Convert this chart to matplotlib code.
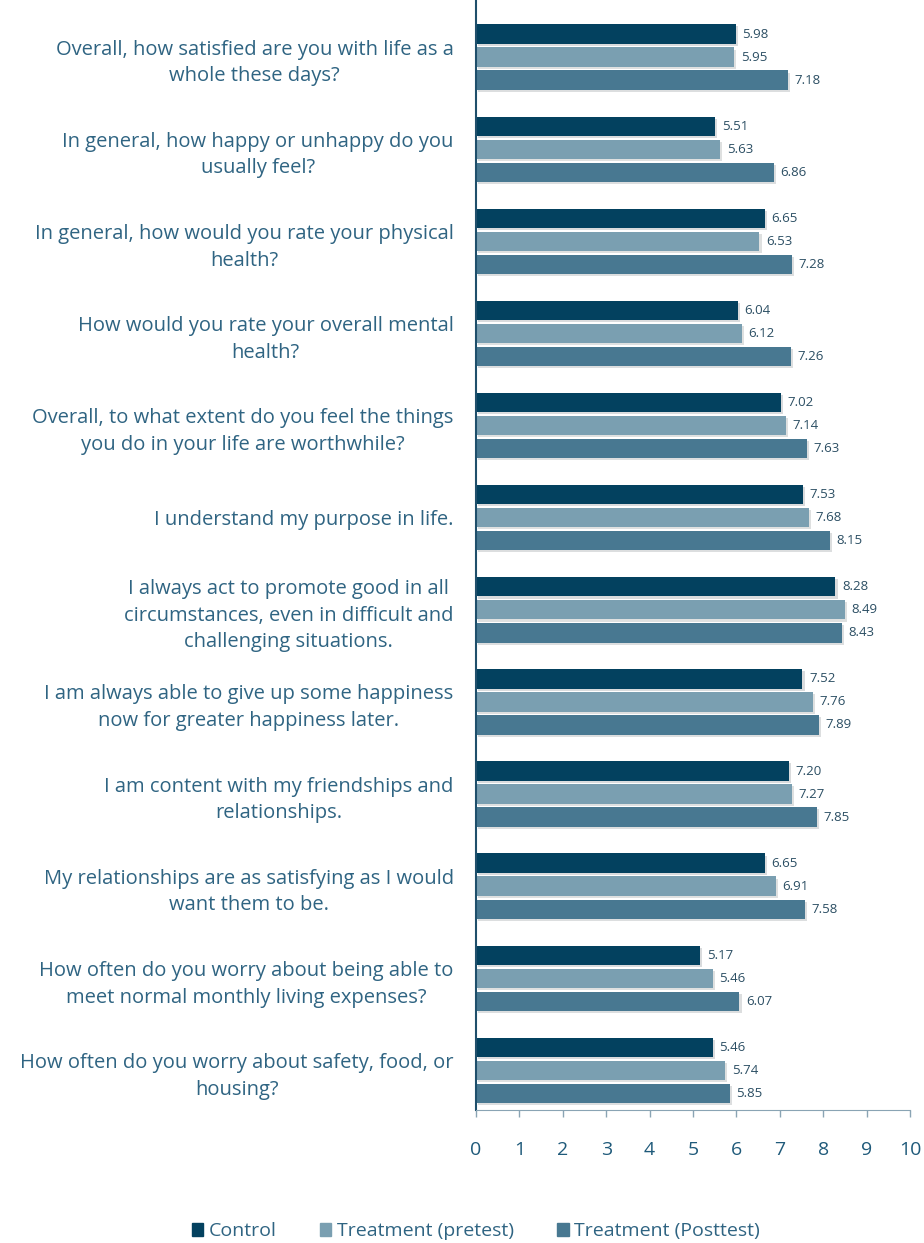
import matplotlib.pyplot as plt
import matplotlib.patheffects as pe
from matplotlib.patches import Patch
import numpy as np

questions = [
    "Overall, how satisfied are you with life as a\nwhole these days?",
    "In general, how happy or unhappy do you\nusually feel?",
    "In general, how would you rate your physical\nhealth?",
    "How would you rate your overall mental\nhealth?",
    "Overall, to what extent do you feel the things\nyou do in your life are worthwhile?",
    "I understand my purpose in life.",
    "I always act to promote good in all\ncircumstances, even in difficult and\nchallenging situations.",
    "I am always able to give up some happiness\nnow for greater happiness later.",
    "I am content with my friendships and\nrelationships.",
    "My relationships are as satisfying as I would\nwant them to be.",
    "How often do you worry about being able to\nmeet normal monthly living expenses?",
    "How often do you worry about safety, food, or\nhousing?",
]
control = [5.98, 5.51, 6.65, 6.04, 7.02, 7.53, 8.28, 7.52, 7.20, 6.65, 5.17, 5.46]
pretest = [5.95, 5.63, 6.53, 6.12, 7.14, 7.68, 8.49, 7.76, 7.27, 6.91, 5.46, 5.74]
posttest = [7.18, 6.86, 7.28, 7.26, 7.63, 8.15, 8.43, 7.89, 7.85, 7.58, 6.07, 5.85]

series = [
    ("Control", control, "#03415f"),
    ("Treatment (pretest)", pretest, "#7a9fb1"),
    ("Treatment (Posttest)", posttest, "#487891"),
]

plt.rcParams['font.family'] = ['Open Sans', 'DejaVu Sans']
txt = "#2f6482"

fig = plt.figure(figsize=(9.24, 12.43), dpi=100)
ax = fig.add_axes([0.515, 0.107, 0.47, 0.893])

y = np.arange(len(questions))
offs = [-0.25, 0.0, 0.25]
# soft drop shadow under every bar
shadow = [pe.SimplePatchShadow(offset=(1.5, -1.5), alpha=0.15), pe.Normal()]
for (name, vals, col), off in zip(series, offs):
    bars = ax.barh(y + off, vals, height=0.21, color=col)
    for b in bars:
        b.set_path_effects(shadow)
    for yy, v in zip(y + off, vals):
        ax.text(v + 0.15, yy, f"{v:.2f}", va="center", ha="left",
                fontsize=9.5, color="#2b4e63")

ax.set_ylim(11.43, -0.62)
ax.set_xlim(0, 10)
ax.set_yticks(y)
ax.set_yticklabels(questions, fontsize=14.5, color=txt,
                   multialignment="center", linespacing=1.45)
ax.tick_params(axis="y", length=0, pad=16)
ax.set_xticks(range(0, 11))
ax.tick_params(axis="x", colors="#8aa4b4", length=5, width=1, pad=17,
               labelsize=14, labelcolor="#1f5a7a")

for s in ["top", "right"]:
    ax.spines[s].set_visible(False)
ax.spines["left"].set_color("#1f4f6b")
ax.spines["left"].set_linewidth(1.5)
ax.spines["bottom"].set_color("#8aa4b4")

handles = [Patch(color=col, label=name) for name, _, col in series]
fig.legend(handles=handles, loc="lower center", bbox_to_anchor=(0.515, -0.012),
           ncol=3, frameon=False, fontsize=14, handlelength=0.6,
           handleheight=0.6, handletextpad=0.3, columnspacing=2.2, labelcolor=txt)

fig.savefig("out.png", dpi=100)
